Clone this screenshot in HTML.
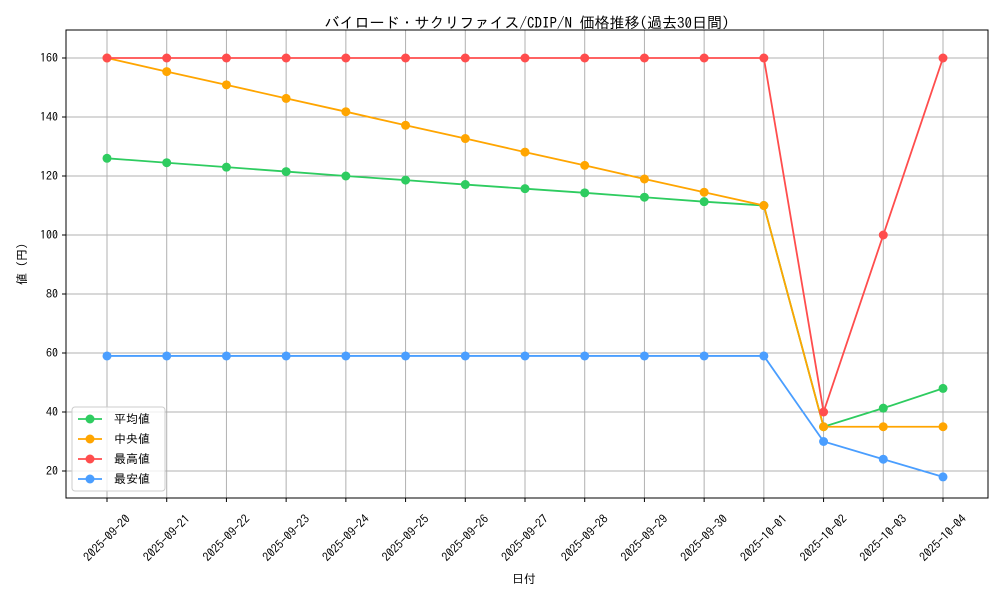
<!DOCTYPE html>
<html><head><meta charset="utf-8"><style>
body{margin:0;background:#fff}
svg text{font-family:"IPAGothic","Liberation Sans","Noto Sans CJK JP",sans-serif;fill:#000}
</style></head><body>
<svg id="c" width="1000" height="600" xmlns="http://www.w3.org/2000/svg">
<text x="527" y="28" font-size="15" text-anchor="middle">バイロード・サクリファイス/CDIP/N 価格推移(過去30日間)</text>
<text x="524" y="583" font-size="12" text-anchor="middle">日付</text>
<text x="26" y="264" font-size="12" text-anchor="middle" transform="rotate(-90 26 264)">値 (円)</text>
<g id="grid"></g><g id="series"></g><g id="ticks"></g>
<rect x="66" y="30" width="922" height="468" fill="none" stroke="#000" stroke-width="1"/>
<g id="legend"></g>
</svg>
<script>
const categories=["2025-09-20","2025-09-21","2025-09-22","2025-09-23","2025-09-24","2025-09-25","2025-09-26","2025-09-27","2025-09-28","2025-09-29","2025-09-30","2025-10-01","2025-10-02","2025-10-03","2025-10-04"];
const avgValues=[126,124.5,123,121.5,120,118.6,117.1,115.7,114.3,112.8,111.3,110,35,41.3,48];
const medianValues=[160,155.4,150.9,146.3,141.8,137.2,132.7,128.1,123.6,119,114.5,110,35,35,35];
const maxValues=[160,160,160,160,160,160,160,160,160,160,160,160,40,100,160];
const minValues=[59,59,59,59,59,59,59,59,59,59,59,59,30,24,18];
const yTicks=[20,40,60,80,100,120,140,160];
const seriesNames=["平均値","中央値","最高値","最安値"];
const NS="http://www.w3.org/2000/svg";
const X=i=>107+i*(943-107)/(categories.length-1);
const Y=v=>471-(v-20)*(471-58)/140;
function mk(t,a,p){const e=document.createElementNS(NS,t);for(const k in a)e.setAttribute(k,a[k]);p.appendChild(e);return e;}
const grid=document.getElementById('grid'),ticks=document.getElementById('ticks'),ser=document.getElementById('series'),leg=document.getElementById('legend');
categories.forEach((c,i)=>{
 const g=mk('line',{x1:X(i),x2:X(i),y1:30,y2:498,stroke:'#b0b0b0','stroke-width':1},grid);
 
 
 mk('line',{x1:X(i),x2:X(i),y1:498,y2:502,stroke:'#000'},ticks);
 const cx=X(i),cy=538;
 const t=mk('text',{x:cx,y:cy+4,'font-size':12,'text-anchor':'middle',transform:`rotate(-45 ${cx} ${cy})`},ticks);
 t.textContent=c;
 
 
});
yTicks.forEach(v=>{
 const g=mk('line',{x1:66,x2:988,y1:Y(v),y2:Y(v),stroke:'#b0b0b0','stroke-width':1},grid);
 
 
 mk('line',{x1:62,x2:66,y1:Y(v),y2:Y(v),stroke:'#000'},ticks);
 const t=mk('text',{x:58,y:Y(v)+4,'font-size':12,'text-anchor':'end'},ticks);
 t.textContent=v;
 
 
});
const all=[[avgValues,'#2ecc60'],[medianValues,'#ffa500'],[maxValues,'#ff4d4d'],[minValues,'#4a9eff']];
all.forEach(([vals,col],s)=>{
 const p=mk('polyline',{points:vals.map((v,i)=>X(i)+','+Y(v)).join(' '),fill:'none',stroke:col,'stroke-width':1.8},ser);
 
 
 vals.forEach((v,i)=>{
  const c=mk('circle',{cx:X(i),cy:Y(v),r:4.5,fill:col},ser);
  
  
 });
});
mk('rect',{x:72,y:407,width:93,height:84,rx:3,fill:'#fff','fill-opacity':0.8,stroke:'#ccc'},leg);
all.forEach(([v,col],s)=>{
 const y=419+s*20;
 mk('line',{x1:78,x2:102,y1:y,y2:y,stroke:col,'stroke-width':1.8},leg);
 mk('circle',{cx:90,cy:y,r:4.5,fill:col},leg);
 const t=mk('text',{x:114,y:y+4,'font-size':12},leg);
 t.textContent=seriesNames[s];
 
 
});
</script>
</body></html>
